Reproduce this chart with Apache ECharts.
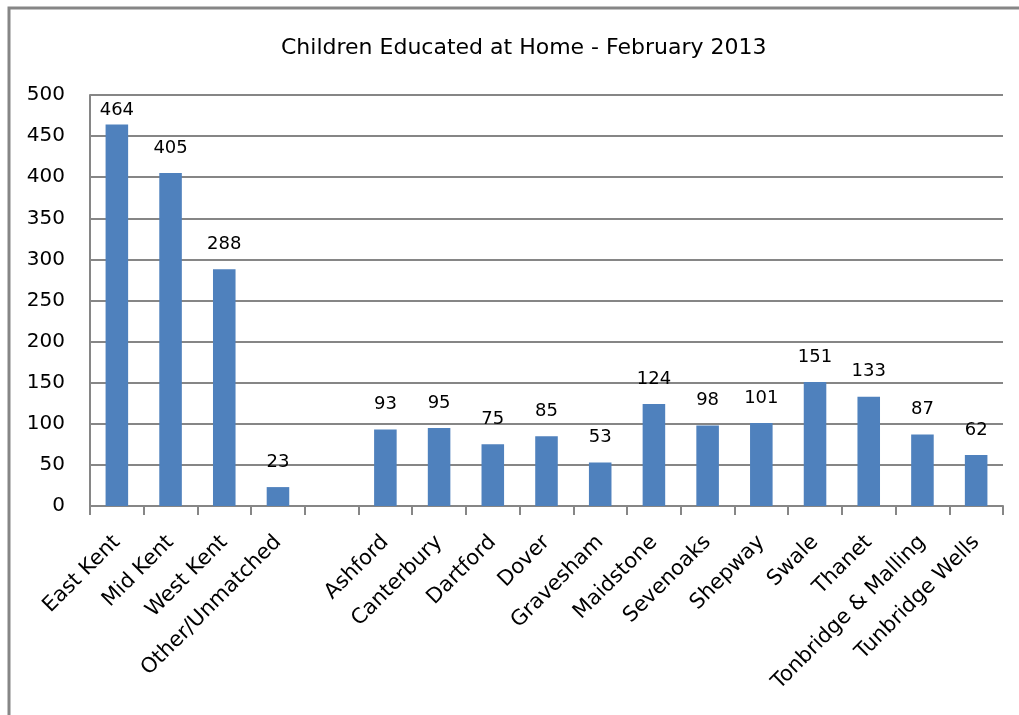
<!DOCTYPE html>
<html>
<head>
<meta charset="utf-8">
<script src="https://cdn.jsdelivr.net/npm/echarts@6/dist/echarts.min.js"></script>
<style>
html,body{margin:0;padding:0;background:#fff;}
#chart{width:1019px;height:715px;}
</style>
</head>
<body>
<div id="chart"></div>
<script>
const categories = ['East Kent','Mid Kent','West Kent','Other/Unmatched','','Ashford','Canterbury','Dartford','Dover','Gravesham','Maidstone','Sevenoaks','Shepway','Swale','Thanet','Tonbridge & Malling','Tunbridge Wells'];
const values = [464,405,288,23,null,93,95,75,85,53,124,98,101,151,133,87,62];
const yTicks = {min:0, max:500, interval:50};
const titleText = 'Children Educated at Home - February 2013';

const font = '"DejaVu Sans", sans-serif';
// Excel keeps labels inside the plot area: the top-most label is pushed down near its bar
const seriesData = values.map(v => (v !== null && v > 450)
  ? {value: v, label: {distance: 5}}
  : v);

const chart = echarts.init(document.getElementById('chart'), null, {renderer:'canvas'});
chart.setOption({
  animation:false,
  backgroundColor:'#fff',
  title:{
    text:titleText,
    left:276,
    top:32,
    textStyle:{fontFamily:font,fontSize:22,fontWeight:'normal',color:'#000'}
  },
  graphic:[{
    type:'rect',
    shape:{x:9,y:8,width:1100,height:800},
    style:{fill:null,stroke:'#868686',lineWidth:3},
    silent:true
  }],
  grid:{left:90,right:16,top:95,bottom:209,containLabel:false},
  xAxis:{
    type:'category',
    data:categories,
    axisLine:{lineStyle:{color:'#868686',width:2}},
    axisTick:{show:true,alignWithLabel:false,length:9,lineStyle:{color:'#868686',width:2}},
    axisLabel:{rotate:45,interval:0,margin:33,fontFamily:font,fontSize:21,color:'#000'}
  },
  yAxis:{
    type:'value',
    min:yTicks.min,max:yTicks.max,interval:yTicks.interval,
    axisLine:{show:true,lineStyle:{color:'#868686',width:2}},
    axisTick:{show:false},
    splitLine:{lineStyle:{color:'#868686',width:2}},
    axisLabel:{margin:25,fontFamily:font,fontSize:20,color:'#000'}
  },
  series:[{
    type:'bar',
    data:seriesData,
    barWidth:'42%',
    itemStyle:{color:'#4F81BD'},
    label:{show:true,position:'top',distance:16,fontFamily:font,fontSize:18,color:'#000'}
  }]
});
</script>
</body>
</html>
